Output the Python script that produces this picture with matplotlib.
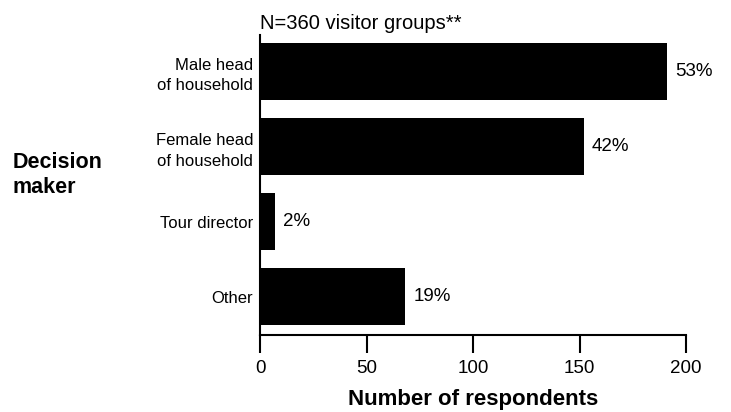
import numpy as np
import matplotlib.pyplot as plt

plt.rcParams['font.family'] = ['Liberation Sans', 'DejaVu Sans']

# data
categories = ["Male head\nof household", "Female head\nof household", "Tour director", "Other"]
counts = [191, 152, 7, 68]
pct_labels = ["53%", "42%", "2%", "19%"]
xticks = [0, 50, 100, 150, 200]

fig = plt.figure(figsize=(7.31, 4.12), dpi=100)
ax = fig.add_axes([260 / 731, 1 - 335 / 412, (686 - 260) / 731, (335 - 35) / 412])

y = np.arange(len(categories))
ax.barh(y, counts, height=0.76, color="black")

for yi, c, lab in zip(y, counts, pct_labels):
    ax.annotate(lab, (c, yi), xytext=(6, 0), textcoords="offset points",
                va="center", ha="left", fontsize=13.5)

ax.set_ylim(3.51, -0.487)
ax.set_xlim(0, 200)
ax.set_xticks(xticks)
ax.set_yticks(y)
ax.set_yticklabels(categories, fontsize=12, linespacing=1.45)
ax.tick_params(axis="y", length=0, pad=5)
ax.tick_params(axis="x", length=13, width=1.5, labelsize=13.5, pad=5)

for s in ["top", "right"]:
    ax.spines[s].set_visible(False)
ax.spines["left"].set_linewidth(1.5)
ax.spines["bottom"].set_linewidth(1.5)

ax.set_xlabel("Number of respondents", fontsize=16, fontweight="bold", labelpad=9)
fig.text(13 / 731, 1 - 175 / 412, "Decision\nmaker", fontsize=15.5, fontweight="bold",
         ha="left", va="center", linespacing=1.2)
fig.text(260 / 731, 1 - 29 / 412, "N=360 visitor groups**", fontsize=14.5,
         ha="left", va="baseline")

fig.savefig("out.png", dpi=100)
